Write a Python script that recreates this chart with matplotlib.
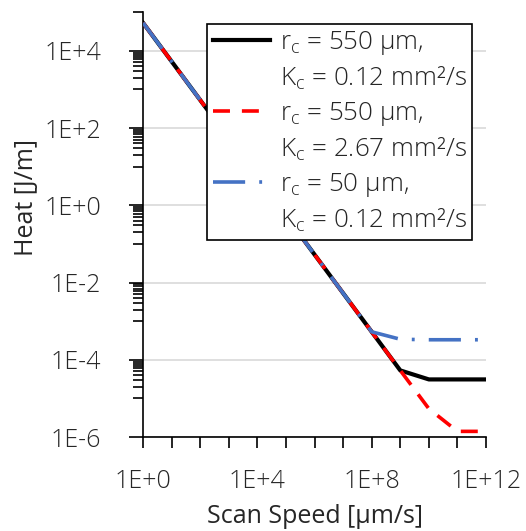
import matplotlib
matplotlib.use("Agg")
import matplotlib.pyplot as plt
import numpy as np
from matplotlib.lines import Line2D
from matplotlib.ticker import FixedLocator, FuncFormatter

plt.rcParams['font.family'] = ['Open Sans', 'DejaVu Sans']
plt.rcParams['font.weight'] = 'light'
plt.rcParams['mathtext.fontset'] = 'custom'
plt.rcParams['mathtext.rm'] = 'Open Sans:light'
plt.rcParams['text.color'] = '#262626'
plt.rcParams['xtick.labelcolor'] = '#262626'
plt.rcParams['ytick.labelcolor'] = '#262626'
plt.rcParams['axes.labelcolor'] = '#262626'

# scan speed in um/s, heat in J/m
speed = [1e0, 1e1, 1e2, 1e3, 1e4, 1e5, 1e6, 1e7, 1e8, 1e9, 1e10, 1e11, 1e12]
heat_550_012 = [5.3e4, 5.3e3, 5.3e2, 5.3e1, 5.3e0, 5.3e-1, 5.3e-2, 5.3e-3,
                5.3e-4, 5.3e-5, 3.1e-5, 3.1e-5, 3.1e-5]
heat_550_267 = [5.3e4, 5.3e3, 5.3e2, 5.3e1, 5.3e0, 5.3e-1, 5.3e-2, 5.3e-3,
                5.3e-4, 5.3e-5, 5.4e-6, 1.4e-6, 1.4e-6]
heat_50_012 = [5.3e4, 5.3e3, 5.3e2, 5.3e1, 5.3e0, 5.3e-1, 5.3e-2, 5.3e-3,
               5.3e-4, 3.4e-4, 3.3e-4, 3.3e-4, 3.3e-4]

radius_labels = ["r$_{\\rm c}$ = 550 µm,", "r$_{\\rm c}$ = 550 µm,", "r$_{\\rm c}$ = 50 µm,"]
kappa_labels = ["K$_{\\rm c}$ = 0.12 mm²/s", "K$_{\\rm c}$ = 2.67 mm²/s", "K$_{\\rm c}$ = 0.12 mm²/s"]

fig = plt.figure(figsize=(5.26, 5.31), dpi=100)
ax = fig.add_axes([0.272, 0.177, 0.652, 0.800])

l1, = ax.plot(speed, heat_550_012, color='black', lw=3.0, zorder=3)
l2, = ax.plot(speed, heat_550_267, color='#ff0000', lw=2.6, dashes=(4.7, 3.3), zorder=4)
l3, = ax.plot(speed, heat_50_012, color='#4472c4', lw=2.6,
              dashes=(8.9, 3.9, 0.8, 3.9), zorder=5)

ax.set_xscale('log')
ax.set_yscale('log')
ax.set_xlim(1e0, 1e12)
ax.set_ylim(1e-6, 1e5)

# x: ticks every decade, labels every 4, gridlines every 2
ax.xaxis.set_major_locator(FixedLocator([10.0 ** n for n in range(0, 13)]))
ax.xaxis.set_major_formatter(FuncFormatter(
    lambda v, p: f"1E{int(round(np.log10(v))):+d}" if round(np.log10(v)) % 4 == 0 else ""))
ax.xaxis.set_minor_locator(FixedLocator([10.0 ** n for n in range(2, 13, 2)]))
ax.tick_params(axis='x', which='major', length=8, width=1.2, pad=15, labelsize=18)
ax.tick_params(axis='x', which='minor', length=0)
ax.grid(True, axis='x', which='minor', color='#d9d9d9', lw=1.2)

# y: major every 2 decades, minor ticks in the decade below each major
ymaj = [10.0 ** n for n in range(-6, 5, 2)]
ymin = [j * 10.0 ** (n - 1) for n in range(-4, 7, 2) for j in range(1, 10)]
ax.yaxis.set_major_locator(FixedLocator(ymaj))
ax.yaxis.set_minor_locator(FixedLocator(ymin))
ax.yaxis.set_major_formatter(FuncFormatter(lambda v, p: f"1E{int(round(np.log10(v))):+d}"))
ax.yaxis.set_minor_formatter(FuncFormatter(lambda v, p: ""))
ax.tick_params(axis='y', which='major', length=10, width=1.2, pad=20, labelsize=18)
ax.tick_params(axis='y', which='minor', length=7, width=1.2)
ax.grid(True, axis='y', which='major', color='#d9d9d9', lw=1.2)
ax.set_axisbelow(True)

for s in ['top', 'right']:
    ax.spines[s].set_visible(False)
for s in ['left', 'bottom']:
    ax.spines[s].set_linewidth(1.2)

ax.set_xlabel("Scan Speed [µm/s]", fontsize=18, labelpad=7)
ax.set_ylabel("Heat [J/m]", fontsize=18, labelpad=4, y=0.565)

# two rows per series: handle on the first row, blank on the second
blank = Line2D([], [], linestyle='none')
handles, texts = [], []
for line, rl, kl in zip([l1, l2, l3], radius_labels, kappa_labels):
    handles += [line, blank]
    texts += [rl, kl]

leg = ax.legend(handles, texts, loc='upper right', bbox_to_anchor=(0.975, 0.985),
                fontsize=18.7, frameon=True, fancybox=False, framealpha=1,
                edgecolor='black', handlelength=2.2, handletextpad=0.4,
                borderpad=0.2, labelspacing=0.3, borderaxespad=0.2)
leg.get_frame().set_linewidth(1.2)

fig.savefig("out.png", dpi=100)
